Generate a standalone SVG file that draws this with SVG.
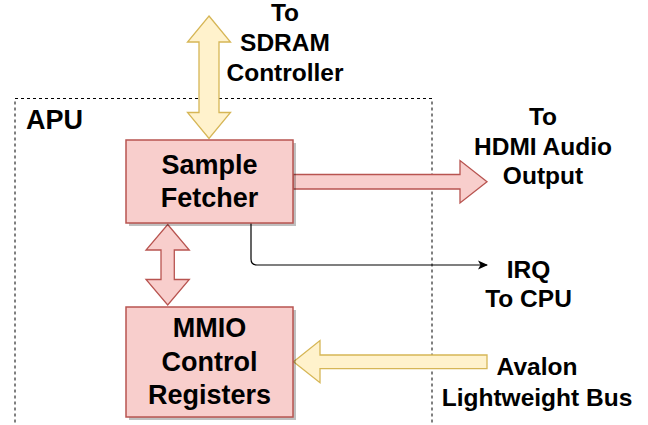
<svg xmlns="http://www.w3.org/2000/svg" width="648" height="425" viewBox="0 0 648 425">
<style>
text{font-family:"Liberation Sans",Arial,sans-serif;font-weight:bold;fill:#000;text-anchor:middle}
.box{fill:#f8cecc;stroke:#b85450;stroke-width:1.5}
.shadow{fill:#000;opacity:0.25}
.red{fill:#f8cecc;stroke:#b85450;stroke-width:1.3;stroke-linejoin:miter}
.yel{fill:#fff2cc;stroke:#d6b656;stroke-width:1.3;stroke-linejoin:miter}
.inner{font-size:27px}
.outer{font-size:24.5px}
</style>
<defs>
<marker id="ah" viewBox="0 0 10 10" refX="9" refY="5" markerWidth="10" markerHeight="10" markerUnits="userSpaceOnUse" orient="auto">
<path d="M0,0.5 L10,5 L0,9.5 L2.5,5 Z" fill="#000"/>
</marker>
</defs>
<g id="apu">
<rect x="15" y="98.5" width="417" height="360" fill="none" stroke="#000" stroke-width="1" stroke-dasharray="3 3"/>
<text x="26" y="128.5" font-size="27" style="text-anchor:start">APU</text>
</g>
<g id="connectors">
<polygon class="yel" points="209,16 230.5,42 219,42 219,112.5 230.5,112.5 209,138.5 187.5,112.5 199,112.5 199,42 187.5,42"/>
<polygon class="red" points="293,174.5 460,174.5 460,160.5 487,181.7 460,203 460,189 293,189"/>
<polygon class="red" points="167.7,224.5 189.3,250 174.3,250 174.3,279.5 189.3,279.5 167.7,305 146,279.5 161,279.5 161,250 146,250"/>
<polygon class="yel" points="293.5,361.7 320,340.5 320,355 487,355 487,368.7 320,368.7 320,382.7"/>
<path d="M251,223 V259 Q251,265 257,265 H487" fill="none" stroke="#000" stroke-width="1.2" marker-end="url(#ah)"/>
</g>
<g id="sample-fetcher">
<rect class="shadow" x="129" y="143" width="167" height="83"/>
<rect class="box" x="126" y="140" width="167" height="83"/>
<text class="inner" x="209.5" y="174">Sample</text>
<text class="inner" x="209.5" y="207.3">Fetcher</text>
</g>
<g id="mmio">
<rect class="shadow" x="129" y="310" width="167" height="110"/>
<rect class="box" x="126" y="307" width="167" height="110"/>
<text class="inner" x="209.5" y="337.3">MMIO</text>
<text class="inner" x="209.5" y="370.7">Control</text>
<text class="inner" x="209.5" y="404">Registers</text>
</g>
<g id="sdram">
<text class="outer" x="285" y="21">To</text>
<text class="outer" x="285" y="51">SDRAM</text>
<text class="outer" x="285" y="80.5">Controller</text>
</g>
<g id="hdmi">
<text class="outer" x="543" y="125">To</text>
<text class="outer" x="543" y="154.5">HDMI Audio</text>
<text class="outer" x="543" y="184.3">Output</text>
</g>
<g id="irq">
<text class="outer" x="528.5" y="277.7">IRQ</text>
<text class="outer" x="528.5" y="306.7">To CPU</text>
</g>
<g id="avalon">
<text class="outer" x="537" y="375">Avalon</text>
<text class="outer" x="537" y="405.7">Lightweight Bus</text>
</g>
</svg>
